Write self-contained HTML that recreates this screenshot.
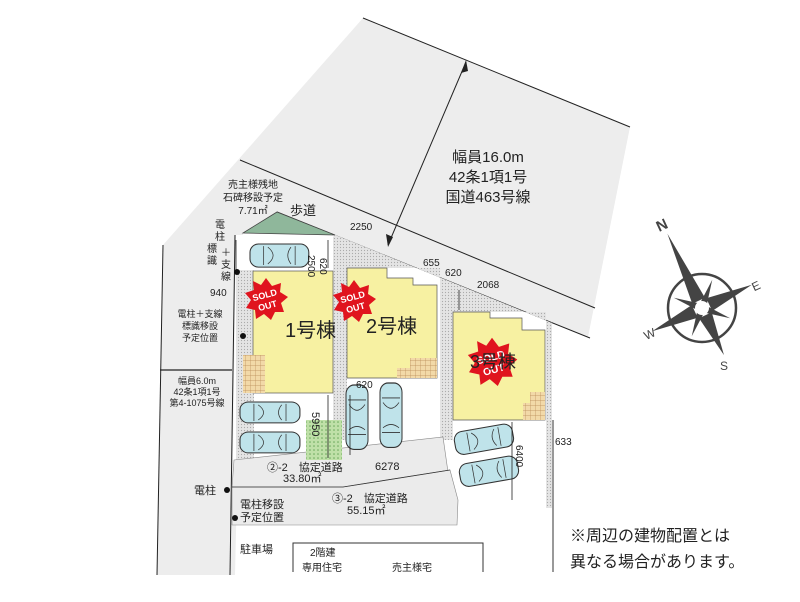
<!DOCTYPE html>
<html><head><meta charset="utf-8"><style>
html,body{margin:0;padding:0;background:#fff;}
svg{display:block;}
text{font-family:"Liberation Sans","Noto Sans CJK JP",sans-serif;fill:#222;}
</style></head><body>
<svg width="800" height="602" viewBox="0 0 800 602" xmlns="http://www.w3.org/2000/svg">
<defs>
<pattern id="tile" width="5" height="5" patternUnits="userSpaceOnUse"><rect width="5" height="5" fill="#f2d9a8"/><path d="M0 0H5M0 0V5" stroke="#b88a55" stroke-width="0.7"/></pattern>
<pattern id="grass" width="4" height="4" patternUnits="userSpaceOnUse"><rect width="4" height="4" fill="#bfe0a8"/><circle cx="2" cy="2" r="0.8" fill="#6aa85a"/></pattern>
<pattern id="dots" width="3" height="3" patternUnits="userSpaceOnUse"><rect width="3" height="3" fill="#e4e4e4"/><circle cx="1.5" cy="1.5" r="0.6" fill="#aaa"/></pattern>
<g id="car"><rect x="0" y="0" width="56" height="22" rx="8" fill="#bfe3ea" stroke="#333" stroke-width="1"/><path d="M13 2V20M43 2V20M17 3Q27 11 17 19M39 3Q33 11 39 19" stroke="#333" fill="none" stroke-width="0.7"/></g>
<g id="sold"><polygon points="0,-22 6,-14 15,-17 14,-8 22,-3 15,3 18,12 9,12 5,20 -2,14 -10,19 -11,10 -20,8 -15,0 -21,-7 -12,-10 -13,-19 -5,-15" fill="#e0141e"/><text x="0" y="-2" text-anchor="middle" font-size="9" font-weight="bold" style="fill:#fff" transform="rotate(-15)">SOLD</text><text x="0" y="9" text-anchor="middle" font-size="9" font-weight="bold" style="fill:#fff" transform="rotate(-15)">OUT</text></g>
</defs>
<!-- roads -->
<polygon points="363,18 630,127 588,337 277,212 243,233 235,575 157,575 163,245" fill="#ededed"/>
<line x1="363" y1="18" x2="630" y2="127" stroke="#222" stroke-width="1"/>
<line x1="240" y1="160" x2="595" y2="308" stroke="#222" stroke-width="1"/>
<line x1="277" y1="212" x2="590" y2="338" stroke="#222" stroke-width="1"/>
<line x1="163" y1="245" x2="157" y2="575" stroke="#222" stroke-width="1"/>
<line x1="235" y1="235" x2="230" y2="575" stroke="#222" stroke-width="1"/>
<!-- site base -->
<polygon points="236,235 335,235 552,323 552,508 455,525 232,525" fill="#fff"/>
<polygon points="243,233 277,212 335,235" fill="#8fb79b" stroke="#444" stroke-width="0.8"/>
<!-- stipple borders -->
<polygon points="335,235 552,323 552,508 546,508 546,312 453,312 453,440 440,440 440,268 347,268 347,440 333,440 333,237" fill="url(#dots)"/>
<rect x="236" y="270" width="18" height="190" fill="url(#dots)"/>
<!-- roads inside -->
<polygon points="234,460 443,437 452,500 232,488" fill="#ebebeb" stroke="#888" stroke-width="0.6"/>
<polygon points="232,487 343,487 450,470 458,500 457,525 232,525" fill="#ebebeb" stroke="#888" stroke-width="0.6"/>
<polyline points="232,487 343,487 450,470" fill="none" stroke="#333" stroke-width="0.8"/>
<!-- houses -->
<rect x="253" y="271" width="80" height="122" fill="#f7f1a2" stroke="#555" stroke-width="0.7"/>
<rect x="243" y="355" width="22" height="38" fill="url(#tile)"/>
<polygon points="347,268 387,268 387,278 413,278 413,285 437,285 437,378 347,378" fill="#f7f1a2" stroke="#555" stroke-width="0.7"/>
<polygon points="397,378 397,368 410,368 410,358 437,358 437,378" fill="url(#tile)"/>
<polygon points="453,312 490,312 490,318 522,318 522,330 545,330 545,420 453,420" fill="#f7f1a2" stroke="#555" stroke-width="0.7"/>
<polygon points="523,420 523,403 530,403 530,392 545,392 545,420" fill="url(#tile)"/>
<rect x="306" y="420" width="36" height="40" fill="url(#grass)"/>
<!-- cars -->
<use href="#car" transform="translate(250,244) scale(1.05,1.05)"/>
<use href="#car" transform="translate(240,402) scale(1.07,0.95)"/>
<use href="#car" transform="translate(240,432) scale(1.07,0.95)"/>
<use href="#car" transform="translate(368,385) rotate(90) scale(1.15,1)"/>
<use href="#car" transform="translate(402,383) rotate(90) scale(1.15,1)"/>
<use href="#car" transform="translate(453,433) rotate(-10) scale(1.05,1.05)"/>
<use href="#car" transform="translate(458,465) rotate(-10) scale(1.05,1.05)"/>
<!-- lines -->
<line x1="553" y1="420" x2="553" y2="572" stroke="#333" stroke-width="1"/>
<path d="M293 572V543H483V572" fill="none" stroke="#333" stroke-width="1"/>
<!-- dimension arrows -->
<line x1="466" y1="62" x2="388" y2="245" stroke="#222" stroke-width="1"/>
<polygon points="466,60 461,73 468,71" fill="#222"/><polygon points="388,247 386,234 393,237" fill="#222"/>
<line x1="160" y1="370" x2="232" y2="370" stroke="#222" stroke-width="1.2"/>
<line x1="236" y1="240" x2="236" y2="270" stroke="#222" stroke-width="0.8"/>
<line x1="328" y1="240" x2="328" y2="268" stroke="#222" stroke-width="0.8"/>
<line x1="328" y1="395" x2="328" y2="458" stroke="#222" stroke-width="0.8"/>
<line x1="350" y1="395" x2="350" y2="455" stroke="#222" stroke-width="0.8"/>
<line x1="512" y1="422" x2="512" y2="500" stroke="#222" stroke-width="0.8"/>
<line x1="459" y1="290" x2="459" y2="310" stroke="#222" stroke-width="0.8"/>
<circle cx="237" cy="272" r="3" fill="#111"/><circle cx="243" cy="336" r="3" fill="#111"/>
<circle cx="227" cy="490" r="3" fill="#111"/><circle cx="235" cy="518" r="3" fill="#111"/>
<!-- SOLD OUT -->
<use href="#sold" transform="translate(266,300)"/>
<use href="#sold" transform="translate(354,302)"/>
<use href="#sold" transform="translate(492,363) scale(1.15)"/>
<!-- labels -->
<text x="285" y="337" font-size="20">1号棟</text>
<text x="366" y="333" font-size="20">2号棟</text>
<text x="470" y="368" font-size="18">3号棟</text>
<g font-size="15" text-anchor="middle"><text x="488" y="162">幅員16.0m</text><text x="488" y="182">42条1項1号</text><text x="488" y="202">国道463号線</text></g>
<text x="290" y="215" font-size="13">歩道</text>
<g font-size="10" text-anchor="middle"><text x="253" y="188">売主様残地</text><text x="253" y="201">石碑移設予定</text><text x="253" y="214">7.71㎡</text></g>
<g font-size="10" text-anchor="middle"><text x="220" y="228">電</text><text x="220" y="240">柱</text><text x="212" y="252">標</text><text x="212" y="264">識</text><text x="226" y="256">＋</text><text x="226" y="268">支</text><text x="226" y="280">線</text></g>
<text x="210" y="296" font-size="10">940</text>
<g font-size="9" text-anchor="middle"><text x="200" y="317">電柱＋支線</text><text x="200" y="329">標識移設</text><text x="200" y="341">予定位置</text></g>
<g font-size="9" text-anchor="middle"><text x="197" y="384">幅員6.0m</text><text x="197" y="395">42条1項1号</text><text x="197" y="406">第4-1075号線</text></g>
<text x="350" y="230" font-size="10">2250</text>
<text x="308" y="255" font-size="10" transform="rotate(90 308 255)">2500</text>
<text x="320" y="258" font-size="10" transform="rotate(90 320 258)">620</text>
<text x="423" y="266" font-size="10">655</text><text x="445" y="276" font-size="10">620</text><text x="477" y="288" font-size="10">2068</text>
<text x="356" y="388" font-size="10">620</text>
<text x="312" y="412" font-size="11" transform="rotate(90 312 412)">5950</text>
<text x="375" y="470" font-size="11">6278</text>
<text x="516" y="445" font-size="10" transform="rotate(90 516 445)">6400</text>
<text x="555" y="445" font-size="10">633</text>
<g font-size="11"><text x="267" y="471">②-2　協定道路</text><text x="283" y="482">33.80㎡</text><text x="332" y="502">③-2　協定道路</text><text x="347" y="514">55.15㎡</text></g>
<text x="194" y="494" font-size="11">電柱</text>
<g font-size="11"><text x="240" y="508">電柱移設</text><text x="240" y="521">予定位置</text></g>
<text x="240" y="553" font-size="11">駐車場</text>
<g font-size="10"><text x="310" y="556">2階建</text><text x="302" y="571">専用住宅</text><text x="392" y="571">売主様宅</text></g>
<g font-size="16"><text x="570" y="541">※周辺の建物配置とは</text><text x="570" y="567">異なる場合があります。</text></g>
<!-- compass -->
<g transform="translate(702,308)">
<circle r="34" fill="none" stroke="#444" stroke-width="2.5"/>
<g transform="rotate(-25)" fill="#444">
<polygon points="0,-82 7,-8 -7,-8"/><polygon points="0,52 7,8 -7,8"/>
<polygon points="55,0 8,7 8,-7"/><polygon points="-55,0 -8,7 -8,-7"/>
<g transform="rotate(45)"><polygon points="0,-30 4,0 -4,0"/><polygon points="0,30 4,0 -4,0"/><polygon points="30,0 0,4 0,-4"/><polygon points="-30,0 0,4 0,-4"/></g>
</g>
<circle r="7" fill="#fff"/>
<text x="-46" y="-78" font-size="15" style="fill:#444" font-weight="bold" transform="rotate(-25 -40 -84)">N</text>
<text x="50" y="-18" font-size="12" style="fill:#444" transform="rotate(-25 54 -22)">E</text>
<text x="18" y="62" font-size="12" style="fill:#444">S</text>
<text x="-58" y="30" font-size="12" style="fill:#444" transform="rotate(-25 -52 26)">W</text>
</g>
</svg>
</body></html>
